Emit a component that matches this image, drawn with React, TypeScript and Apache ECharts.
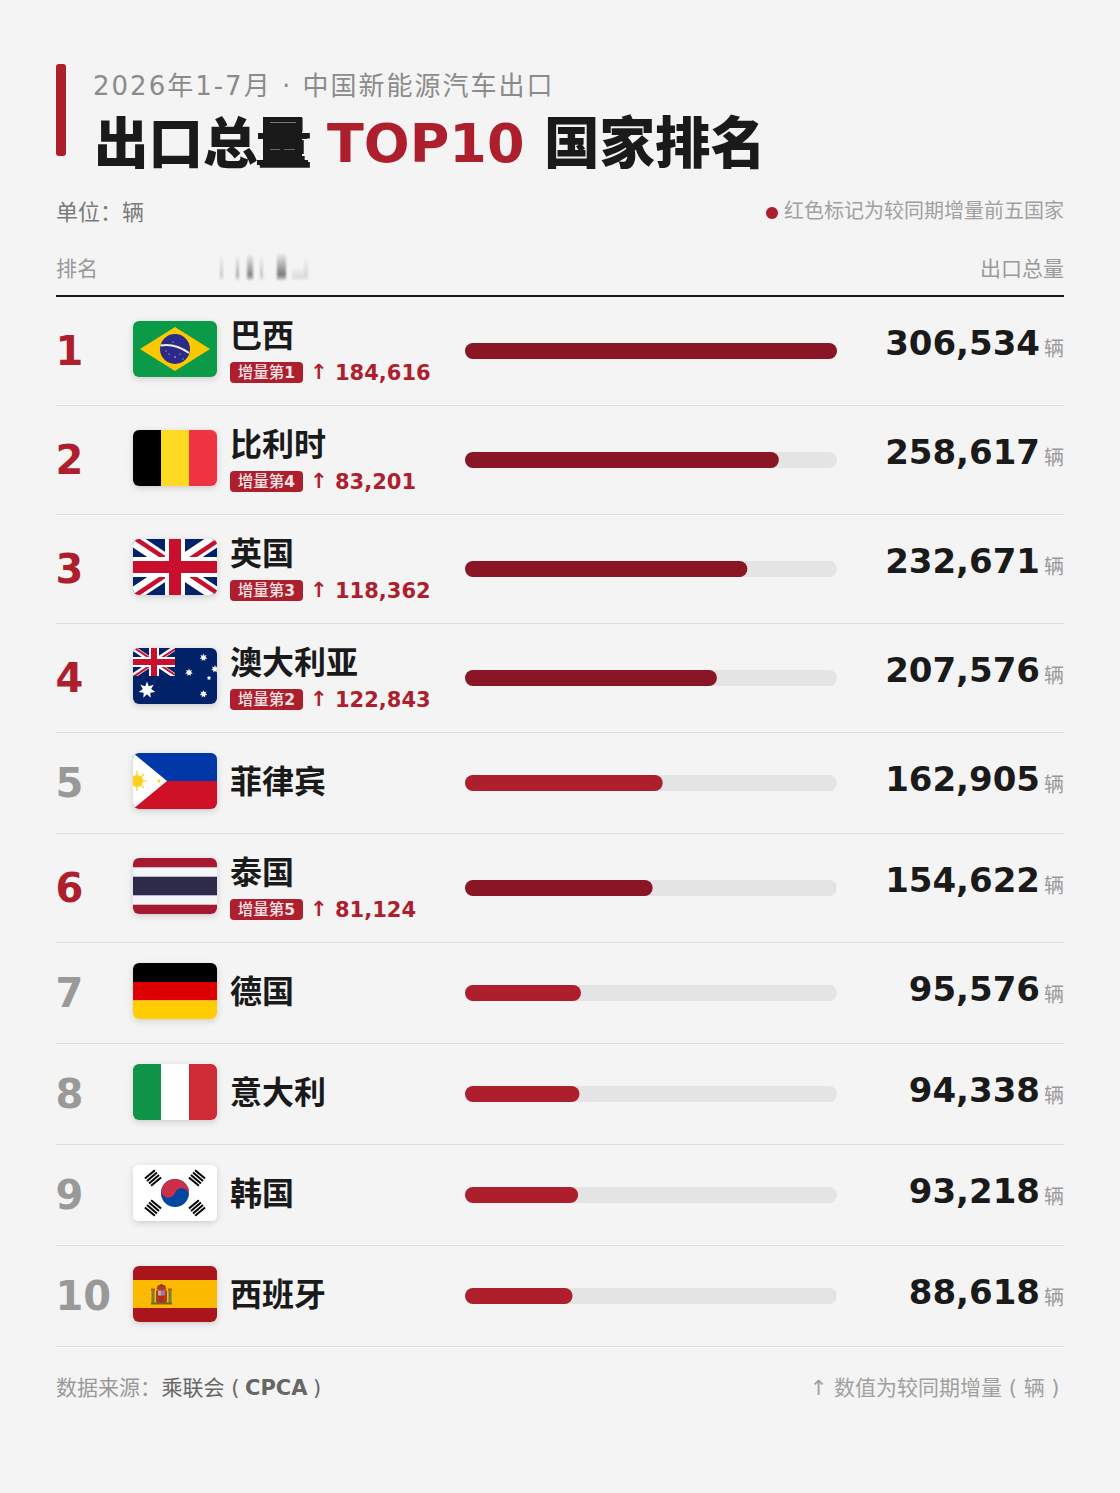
import React, { useEffect, useRef } from "react";
import * as echarts from "echarts";

const countries = ["巴西", "比利时", "英国", "澳大利亚", "菲律宾", "泰国", "德国", "意大利", "韩国", "西班牙"];
const totals = [306534, 258617, 232671, 207576, 162905, 154622, 95576, 94338, 93218, 88618];
const growthRanks = [1, 4, 3, 2, null, 5, null, null, null, null];
const growths = [184616, 83201, 118362, 122843, null, 81124, null, null, null, null];
const flagKeys = ["br", "be", "uk", "au", "ph", "th", "de", "it", "kr", "es"];

const FONT = '"DejaVu Sans","Noto Sans CJK SC",sans-serif';
const RED = "#ae1f2e";
const DARK = "#8a1524";
const BG = "#f4f4f4";
const INK = "#1a1a1a";
const SUBTITLE_FILL = "#8b8b8b";

const star = (cx: number, cy: number, r: number, n = 7) => {
  const pts: string[] = [];
  for (let i = 0; i < n * 2; i++) {
    const a = (Math.PI * i) / n - Math.PI / 2;
    const q = i % 2 ? r * 0.5 : r;
    pts.push(`${(cx + q * Math.cos(a)).toFixed(2)},${(cy + q * Math.sin(a)).toFixed(2)}`);
  }
  return `<polygon points="${pts.join(" ")}" fill="#fff"/>`;
};

const union = (w: number, h: number, diagWhite = 14, diagRed = 4.5) => {
  const k = h / 56;
  return `<rect width="${w}" height="${h}" fill="#012169"/>
  <path d="M0 0L${w} ${h}M${w} 0L0 ${h}" stroke="#fff" stroke-width="${diagWhite * k}"/>
  <path d="M0 ${-2 * k}L${w} ${h - 2 * k}M${w} ${2 * k}L0 ${h + 2 * k}" stroke="#c8102e" stroke-width="${diagRed * k}"/>
  <rect x="${w / 2 - 10 * k}" width="${20 * k}" height="${h}" fill="#fff"/>
  <rect y="${h / 2 - 10 * k}" width="${w}" height="${20 * k}" fill="#fff"/>
  <rect x="${w / 2 - 6 * k}" width="${12 * k}" height="${h}" fill="#c8102e"/>
  <rect y="${h / 2 - 6 * k}" width="${w}" height="${12 * k}" fill="#c8102e"/>`;
};

const trigram = (cx: number, cy: number, angle: number) =>
  `<g transform="translate(${cx} ${cy}) rotate(${angle})" fill="#000">${[-4.8, -1.6, 1.6, 4.8]
    .map((y) => `<rect x="-6.5" y="${y - 1}" width="13" height="2"/>`)
    .join("")}</g>`;

const flagBodies: Record<string, string> = {
  br: `<rect width="84" height="56" fill="#0b9a48"/><polygon points="7,28 42,6 77,28 42,50" fill="#fbc802"/><circle cx="42" cy="28" r="15" fill="#2b2a88"/>
  <path d="M27.5 24.5Q42 22 56 32" fill="none" stroke="#eeeef8" stroke-width="1.8"/>
  <g fill="#fff"><circle cx="36" cy="33" r=".6"/><circle cx="42" cy="36" r=".7"/><circle cx="47" cy="33" r=".5"/><circle cx="40" cy="21" r=".5"/><circle cx="50" cy="38" r=".5"/><circle cx="33" cy="30" r=".5"/></g>`,
  be: `<rect width="28" height="56" fill="#000"/><rect x="28" width="28" height="56" fill="#fdda24"/><rect x="56" width="28" height="56" fill="#ef3340"/>`,
  uk: union(84, 56),
  au: `<rect width="84" height="56" fill="#012169"/><svg width="42" height="28" viewBox="0 0 42 28">${union(42, 28, 10, 4)}</svg>${star(14, 42, 8.5)}${star(70.5, 9.5, 4)}${star(56, 24.5, 4)}${star(82, 21, 4)}${star(76, 30, 2.4, 5)}${star(70.5, 46, 4)}`,
  ph: `<rect width="84" height="28" fill="#0038a8"/><rect y="28" width="84" height="28" fill="#ce1126"/><polygon points="0,0 34,28 0,56" fill="#fff"/><circle cx="4" cy="28" r="6" fill="#fcd116"/>
  <g stroke="#fcd116" stroke-width="1.2"><path d="M4 18V38M-6 28H14M-3 21L11 35M-3 35L11 21"/></g><circle cx="26" cy="28" r="1.6" fill="#fcd116"/>`,
  th: `<rect width="84" height="56" fill="#a51931"/><rect y="9.3" width="84" height="37.4" fill="#f4f5f8"/><rect y="18.7" width="84" height="18.6" fill="#2d2a4a"/>`,
  de: `<rect width="84" height="19" fill="#000"/><rect y="19" width="84" height="18.5" fill="#dd0000"/><rect y="37.5" width="84" height="18.5" fill="#ffce00"/>`,
  it: `<rect width="28" height="56" fill="#0e9348"/><rect x="28" width="28" height="56" fill="#fff"/><rect x="56" width="28" height="56" fill="#cf2b37"/>`,
  kr: `<rect width="84" height="56" fill="#fff"/><circle cx="42" cy="28" r="14" fill="#0047a0"/>
  <path d="M28 28A14 14 0 0 1 56 28A7 7 0 0 0 42 28A7 7 0 0 1 28 28Z" fill="#cd2e4a" transform="rotate(18 42 28)"/>
  ${trigram(20, 13, -40)}${trigram(64, 13, 40)}${trigram(20, 43, 40)}${trigram(64, 43, -40)}`,
  es: `<rect width="84" height="56" fill="#aa151b"/><rect y="14" width="84" height="28" fill="#fbb900"/>
  <rect x="23" y="23" width="11" height="15" rx="3.5" fill="#a8401c"/><rect x="25" y="24.5" width="3.4" height="5" fill="#d7a0b0"/><rect x="28.5" y="24.5" width="3.5" height="5" fill="#8e7ea8"/><rect x="26" y="30" width="5" height="6" fill="#b8281c"/>
  <path d="M23.5 23L25 19H32L33.5 23Z" fill="#a8401c"/><rect x="27.4" y="18" width="2" height="2" fill="#8a2b1c"/>
  <rect x="18.5" y="24" width="3" height="14" fill="#7d7d36"/><rect x="35.5" y="24" width="3" height="14" fill="#7d7d36"/><rect x="18" y="22.5" width="4" height="2" fill="#b5561c"/><rect x="35" y="22.5" width="4" height="2" fill="#b5561c"/>
  <rect x="18" y="36.5" width="21" height="2" fill="#6e6a2c"/>`,
};

const svgUrl = (body: string, w: number, h: number) =>
  "data:image/svg+xml;charset=utf-8," +
  encodeURIComponent(`<svg xmlns="http://www.w3.org/2000/svg" width="${w}" height="${h}" viewBox="0 0 ${w} ${h}">${body}</svg>`);

const flagUrl = (key: string) =>
  svgUrl(`<defs><clipPath id="c"><rect width="84" height="56" rx="6"/></clipPath></defs><g clip-path="url(#c)">${flagBodies[key]}</g>`, 84, 56);

const smudgeUrl = svgUrl(
  `<defs><filter id="b" x="-50%" y="-20%" width="200%" height="140%"><feGaussianBlur stdDeviation="1.3 1"/></filter>
  <linearGradient id="g" x1="0" y1="0" x2="0" y2="1"><stop offset="0" stop-color="#000" stop-opacity=".04"/><stop offset=".8" stop-color="#000" stop-opacity=".5"/><stop offset="1" stop-color="#000" stop-opacity=".15"/></linearGradient></defs>
  <g filter="url(#b)" fill="url(#g)"><rect x="10" y="4" width="3" height="24" opacity=".35"/><rect x="26" y="4" width="3" height="24" opacity=".6"/><rect x="37" y="3" width="6" height="25" opacity=".9"/><rect x="50" y="4" width="3" height="24" opacity=".4"/><rect x="67" y="2" width="9" height="26"/><rect x="82" y="16" width="12" height="12" opacity=".2"/><rect x="94" y="6" width="4" height="22" opacity=".25"/></g>`,
  110,
  32
);

const rowHeight = (i: number) => (growths[i] == null ? 101 : 109);
const rowTops: number[] = [];
countries.forEach((_, i) => rowTops.push(i === 0 ? 297 : rowTops[i - 1] + rowHeight(i - 1)));

const txt = (x: number, y: number, text: string, size: number, fill: string, weight: string = "normal", align: string = "left", va: string = "middle") => ({
  type: "text",
  x,
  y,
  silent: true,
  style: { text, fill, font: `${weight} ${size}px ${FONT}`, align, verticalAlign: va },
});

function buildOption() {
  const maxTotal = Math.max(...totals);
  const grid: any[] = [];
  const xAxis: any[] = [];
  const yAxis: any[] = [];
  const series: any[] = [];
  const g: any[] = [];

  g.push({ type: "rect", shape: { x: 56, y: 64, width: 10, height: 92, r: 3 }, style: { fill: RED } });
  g.push(txt(93, 86, "2026年1-7月 · 中国新能源汽车出口", 26, SUBTITLE_FILL));
  g.push(txt(94, 143.5, "出口总量", 54.5, INK, "900"));
  g.push(txt(327, 143, "TOP10", 54, RED, "bold"));
  g.push(txt(544, 143.5, "国家排名", 55.5, INK, "900"));
  // the reference's filled-in glyph
  [
    [263, 117, 39, 16],
    [258, 133, 49, 6],
    [263, 139, 39, 21],
    [257, 160, 51, 5],
  ].forEach(([x, y, width, height]) => g.push({ type: "rect", shape: { x, y, width, height }, style: { fill: INK } }));
  g.push({ type: "rect", shape: { x: 270, y: 122, width: 26, height: 1 }, style: { fill: "#777" } });
  g.push({ type: "rect", shape: { x: 270, y: 149, width: 10, height: 1 }, style: { fill: "#666" } });
  g.push({ type: "rect", shape: { x: 284, y: 149, width: 11, height: 1 }, style: { fill: "#666" } });

  g.push(txt(56, 212, "单位：辆", 22, "#7a7a7a"));
  g.push({ type: "circle", shape: { cx: 772, cy: 213, r: 6 }, style: { fill: RED } });
  g.push(txt(1064, 211, "红色标记为较同期增量前五国家", 20, "#a0a0a0", "normal", "right"));
  g.push(txt(56, 269, "排名", 21, "#999999"));
  g.push({ type: "image", x: 210, y: 252, style: { image: smudgeUrl, width: 110, height: 32 } });
  g.push(txt(1064, 269, "出口总量", 21, "#999999", "normal", "right"));
  g.push({ type: "rect", shape: { x: 56, y: 295, width: 1008, height: 2 }, style: { fill: INK } });

  countries.forEach((name, i) => {
    const top = rowTops[i];
    const h = rowHeight(i);
    const center = top + Math.floor(h / 2);
    const hasGrowth = growths[i] != null;

    grid.push({ left: 465, width: 372, top: center - 8, height: 16, containLabel: false });
    xAxis.push({ type: "value", gridIndex: i, min: 0, max: maxTotal, show: false });
    yAxis.push({ type: "category", gridIndex: i, data: [name], show: false });
    series.push({
      type: "bar",
      xAxisIndex: i,
      yAxisIndex: i,
      data: [totals[i]],
      barWidth: 16,
      silent: true,
      showBackground: true,
      backgroundStyle: { color: "#e4e4e4", borderRadius: 8 },
      itemStyle: { color: hasGrowth ? DARK : RED, borderRadius: 8 },
    });

    g.push(txt(55.5, center, String(i + 1), 40, hasGrowth ? RED : "#999999", "bold"));
    const flagTop = top + (hasGrowth ? 24 : 20);
    g.push({
      type: "rect",
      shape: { x: 133, y: flagTop, width: 84, height: 56, r: 6 },
      style: { fill: "#ffffff", shadowBlur: 6, shadowOffsetY: 2, shadowColor: "rgba(0,0,0,0.16)" },
    });
    g.push({ type: "image", x: 133, y: flagTop, style: { image: flagUrl(flagKeys[i]), width: 84, height: 56 } });

    g.push(txt(230, top + (hasGrowth ? 39 : 49), name, 32, INK, "bold"));
    if (hasGrowth) {
      g.push({ type: "rect", shape: { x: 230, y: top + 65, width: 73, height: 21, r: 4 }, style: { fill: RED } });
      g.push({
        type: "text",
        x: 266.5,
        y: top + 76,
        style: {
          text: `{a|增量第}{b|${growthRanks[i]}}`,
          align: "center",
          verticalAlign: "middle",
          rich: {
            a: { fill: "#f6e6e8", font: `500 15.5px ${FONT}` },
            b: { fill: "#f6e6e8", font: `bold 15.5px ${FONT}` },
          },
        },
      });
      g.push(txt(310, top + 75, "↑", 21, RED, "bold"));
      g.push(txt(335, top + 75.5, (growths[i] as number).toLocaleString("en-US"), 21, RED, "bold"));
    }
    g.push(txt(1040, top + 46, totals[i].toLocaleString("en-US"), 34, INK, "bold", "right"));
    g.push(txt(1064, top + 51.5, "辆", 20, "#999999", "normal", "right"));
    g.push({ type: "rect", shape: { x: 56, y: top + h - 1, width: 1008, height: 1 }, style: { fill: "#dedede" } });
  });

  g.push(txt(56, 1388, "数据来源：", 21, "#999999"));
  g.push(txt(161.5, 1388, "乘联会 ( ", 21, "#666666"));
  g.push(txt(245, 1388, "CPCA", 21, "#666666", "bold"));
  g.push(txt(313, 1388, ")", 21, "#666666"));
  g.push(txt(1059.5, 1388, "↑ 数值为较同期增量 ( 辆 )", 21, "#a0a0a0", "normal", "right"));

  return {
    animation: false,
    backgroundColor: BG,
    grid,
    xAxis,
    yAxis,
    series,
    graphic: { elements: g },
  };
}

export default function App() {
  const ref = useRef<HTMLDivElement>(null);
  useEffect(() => {
    document.body.style.margin = "0";
    document.body.style.background = BG;
    const chart = echarts.init(ref.current as HTMLDivElement, undefined, { renderer: "svg" });
    chart.setOption(buildOption() as any);
    return () => chart.dispose();
  }, []);
  return (
    <>
      <style>{`#chart text[fill="${SUBTITLE_FILL}"]{letter-spacing:2px}`}</style>
      <div id="chart" ref={ref} style={{ width: 1120, height: 1493 }} />
    </>
  );
}
